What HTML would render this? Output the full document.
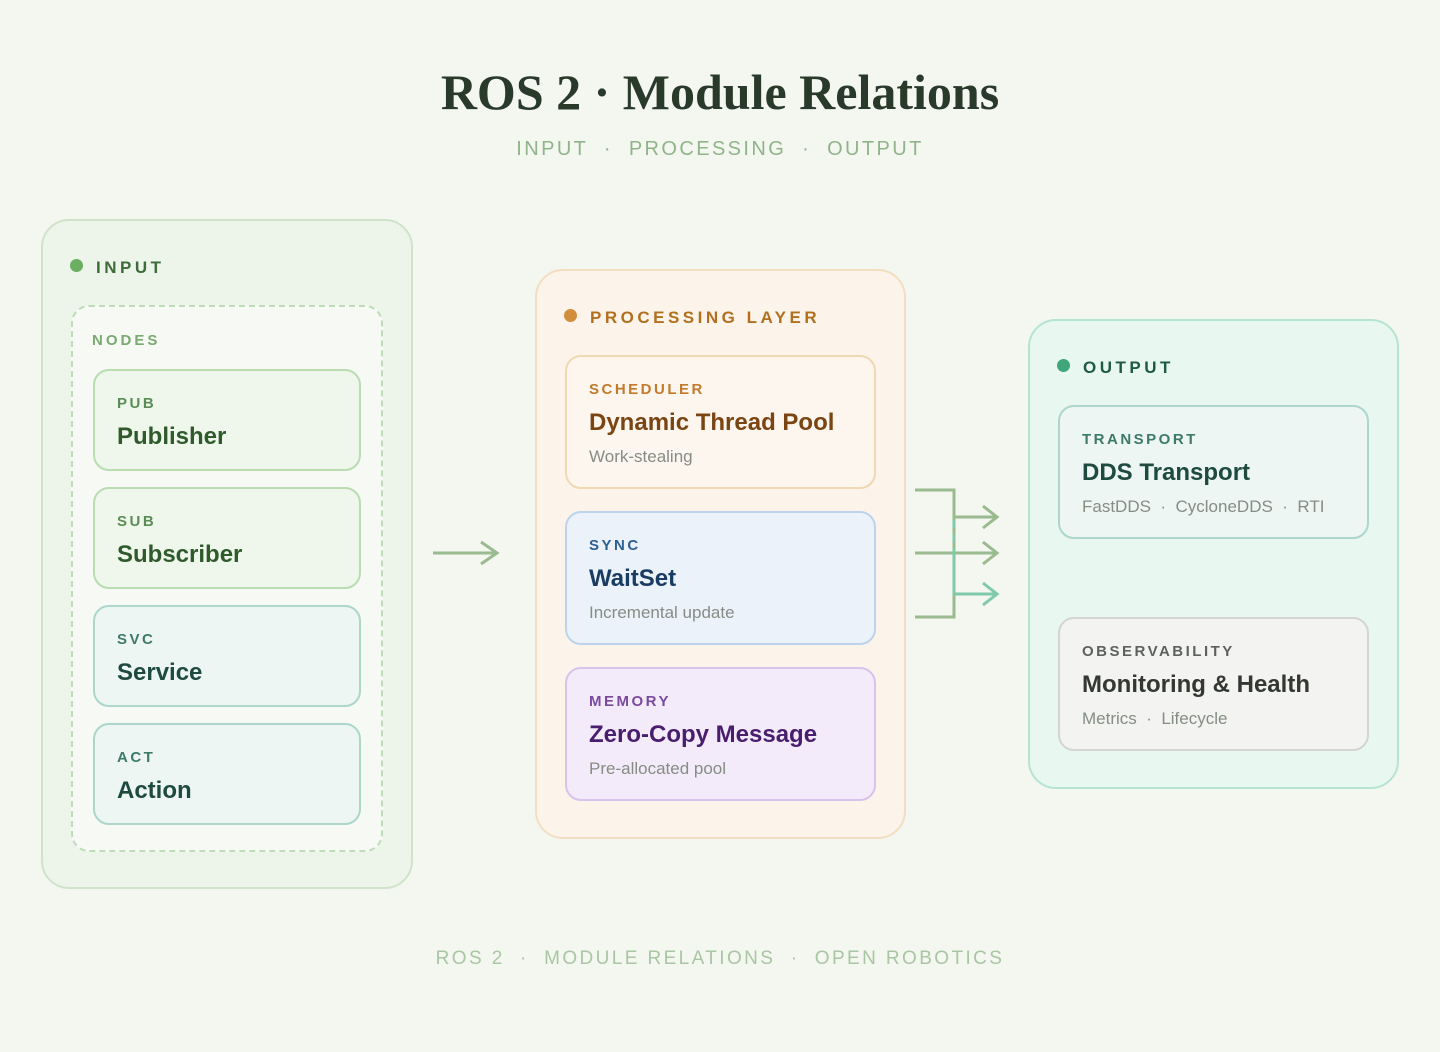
<!DOCTYPE html>
<html><head><meta charset="utf-8"><style>
*{margin:0;padding:0;box-sizing:border-box}
body{width:1440px;height:1052px;background:#f4f6f0;font-family:"Liberation Sans",sans-serif;position:relative;overflow:hidden}
.a{position:absolute}
.title{left:0;width:1440px;top:63px;text-align:center;font-family:"Liberation Serif",serif;font-weight:bold;font-size:50px;color:#2a3a2a}
.sub{left:0;width:1440px;top:138px;text-align:center;font-size:20px;letter-spacing:2.4px;color:#8fb48a}
.foot{left:0;width:1440px;top:948px;text-align:center;font-size:19px;letter-spacing:2.4px;color:#a9c6a3}
.box{position:absolute;border-radius:28px;border:2px solid}
.hd{position:absolute;font-weight:bold;font-size:17px;letter-spacing:3.5px}
.dot{position:absolute;width:13px;height:13px;border-radius:50%}
.card{position:absolute;border:2px solid;border-radius:16px}
.card .k{position:absolute;left:22px;font-weight:bold;font-size:15px;letter-spacing:2.5px}
.card .t{position:absolute;left:22px;font-weight:bold;font-size:24px;white-space:nowrap}
.card .d{position:absolute;left:22px;font-size:17px;color:#858d85;white-space:nowrap}
</style></head><body>
<div class="a title">ROS 2 · Module Relations</div>
<div class="a sub">INPUT &nbsp;·&nbsp; PROCESSING &nbsp;·&nbsp; OUTPUT</div>

<div class="box" style="left:41px;top:219px;width:372px;height:670px;background:#edf4ea;border-color:#cfe3ca"></div>
<div class="dot" style="left:70px;top:259px;background:#6aaf62"></div>
<div class="hd" style="left:96px;top:258px;color:#3d6b3a">INPUT</div>
<div class="a" style="left:71px;top:305px;width:312px;height:547px;border:2px dashed #bfdcb9;border-radius:18px;background:#f6f9f4"></div>
<div class="hd" style="left:92px;top:332px;color:#79aa72;font-size:15px;letter-spacing:3px">NODES</div>

<div class="card" style="left:93px;top:369px;width:268px;height:102px;background:#eff7ec;border-color:#b9dcb1"><div class="k" style="top:24px;color:#5a8d55">PUB</div><div class="t" style="top:52px;color:#2f5a2b">Publisher</div></div>
<div class="card" style="left:93px;top:487px;width:268px;height:102px;background:#eff7ec;border-color:#b9dcb1"><div class="k" style="top:24px;color:#5a8d55">SUB</div><div class="t" style="top:52px;color:#2f5a2b">Subscriber</div></div>
<div class="card" style="left:93px;top:605px;width:268px;height:102px;background:#edf6f3;border-color:#acd6cc"><div class="k" style="top:24px;color:#3d7a6a">SVC</div><div class="t" style="top:52px;color:#1f4a40">Service</div></div>
<div class="card" style="left:93px;top:723px;width:268px;height:102px;background:#edf6f3;border-color:#acd6cc"><div class="k" style="top:24px;color:#3d7a6a">ACT</div><div class="t" style="top:52px;color:#1f4a40">Action</div></div>

<div class="box" style="left:535px;top:269px;width:371px;height:570px;background:#fcf4ea;border-color:#f2dfc2"></div>
<div class="dot" style="left:564px;top:309px;background:#d18f3e"></div>
<div class="hd" style="left:590px;top:308px;color:#b2701f">PROCESSING LAYER</div>
<div class="card" style="left:565px;top:355px;width:311px;height:134px;background:#fdf6ee;border-color:#f0d8b0"><div class="k" style="top:24px;color:#c27a2c">SCHEDULER</div><div class="t" style="top:52px;color:#7a4512">Dynamic Thread Pool</div><div class="d" style="top:90px">Work-stealing</div></div>
<div class="card" style="left:565px;top:511px;width:311px;height:134px;background:#ebf2fa;border-color:#bcd3ec"><div class="k" style="top:24px;color:#2d5f93">SYNC</div><div class="t" style="top:52px;color:#1a3c63">WaitSet</div><div class="d" style="top:90px">Incremental update</div></div>
<div class="card" style="left:565px;top:667px;width:311px;height:134px;background:#f3ebf9;border-color:#d8c2ee"><div class="k" style="top:24px;color:#7a4a9e">MEMORY</div><div class="t" style="top:52px;color:#4a1e6e">Zero-Copy Message</div><div class="d" style="top:90px">Pre-allocated pool</div></div>

<div class="box" style="left:1028px;top:319px;width:371px;height:470px;background:#e9f7f1;border-color:#b6e4d2"></div>
<div class="dot" style="left:1057px;top:359px;background:#3fa67c"></div>
<div class="hd" style="left:1083px;top:358px;color:#1f5a45">OUTPUT</div>
<div class="card" style="left:1058px;top:405px;width:311px;height:134px;background:#edf6f3;border-color:#acd6cc"><div class="k" style="top:24px;color:#3d7a6a">TRANSPORT</div><div class="t" style="top:52px;color:#1f4a40">DDS Transport</div><div class="d" style="top:90px">FastDDS &nbsp;·&nbsp; CycloneDDS &nbsp;·&nbsp; RTI</div></div>
<div class="card" style="left:1058px;top:617px;width:311px;height:134px;background:#f3f3f1;border-color:#d4d4d0"><div class="k" style="top:24px;color:#5e625e">OBSERVABILITY</div><div class="t" style="top:52px;color:#333833">Monitoring &amp; Health</div><div class="d" style="top:90px">Metrics &nbsp;·&nbsp; Lifecycle</div></div>

<svg class="a" style="left:0;top:0" width="1440" height="1052" fill="none" stroke-width="3">
<g stroke="#9aba8f">
<path d="M433 553H497M481 542L497 553L481 564"/>
<path d="M915 490H954V617H915M915 553H997"/>
<path d="M954 517H997M983 506L997 517L983 528M983 542L997 553L983 564"/>
</g>
<g stroke="#7fcaa8">
<path d="M954 520V553" stroke-dasharray="8 6"/>
<path d="M954 553V594H997M983 583L997 594L983 605"/>
</g>
</svg>

<div class="a foot">ROS 2 &nbsp;·&nbsp; MODULE RELATIONS &nbsp;·&nbsp; OPEN ROBOTICS</div>
</body></html>
